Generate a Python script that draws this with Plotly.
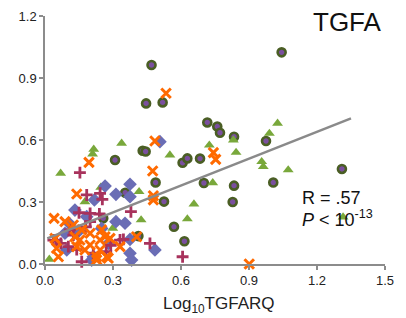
import plotly.graph_objects as go

# Green circles (purple centre, olive ring)
circ_x = [0.470, 1.044, 0.446, 0.519, 0.716, 0.760, 0.772, 0.834, 0.975, 0.309, 0.431, 0.444,
          0.607, 0.628, 0.684, 0.488, 0.701, 1.007, 0.834, 1.310, 0.354, 0.525, 0.828, 0.569,
          0.615, 0.412, 0.257]
circ_y = [0.963, 1.024, 0.777, 0.782, 0.685, 0.665, 0.635, 0.616, 0.595, 0.503, 0.548, 0.544,
          0.490, 0.511, 0.510, 0.394, 0.392, 0.394, 0.379, 0.460, 0.345, 0.302, 0.300, 0.180,
          0.110, 0.135, 0.221]

# Light green triangles
tri_x = [0.019, 0.069, 0.215, 0.210, 0.338, 0.176, 0.246, 0.415, 0.424, 0.299, 0.551, 0.725,
         0.740, 0.657, 0.628, 0.831, 0.843, 0.990, 0.956, 0.963, 1.026, 1.073, 1.315, 0.100]
tri_y = [0.023, 0.439, 0.555, 0.532, 0.584, 0.301, 0.371, 0.350, 0.213, 0.173, 0.527, 0.575,
         0.393, 0.290, 0.218, 0.600, 0.540, 0.632, 0.495, 0.471, 0.681, 0.455, 0.227, 0.070]

# Blue diamonds
dia_x = [0.507, 0.265, 0.375, 0.313, 0.375, 0.132, 0.184, 0.110, 0.250, 0.313, 0.353, 0.088,
         0.375, 0.382, 0.485, 0.213, 0.375, 0.096, 0.218, 0.206, 0.150, 0.280]
dia_y = [0.592, 0.377, 0.386, 0.337, 0.326, 0.261, 0.229, 0.193, 0.172, 0.205, 0.197, 0.149,
         0.052, 0.019, 0.068, 0.035, 0.119, 0.068, 0.310, 0.019, 0.160, 0.100]

# Crimson plus signs
plus_x = [0.154, 0.184, 0.243, 0.253, 0.150, 0.240, 0.199, 0.051, 0.037, 0.103, 0.162, 0.331,
          0.110, 0.199, 0.213, 0.379, 0.346, 0.463, 0.607, 0.140, 0.270, 0.290, 0.070, 0.125,
          0.180]
plus_y = [0.442, 0.334, 0.342, 0.313, 0.248, 0.242, 0.205, 0.113, 0.116, 0.084, 0.011, 0.116,
          0.165, 0.245, 0.052, 0.253, 0.119, 0.100, 0.035, 0.070, 0.060, 0.090, 0.100, 0.140,
          0.180]

# Orange crosses
x_x = [0.534, 0.485, 0.475, 0.478, 0.478, 0.743, 0.753, 0.901, 0.194, 0.140, 0.040, 0.088,
       0.125, 0.044, 0.051, 0.059, 0.132, 0.154, 0.140, 0.176, 0.199, 0.243, 0.228, 0.272,
       0.287, 0.331, 0.404, 0.243, 0.199, 0.162, 0.250, 0.265, 0.279, 0.228]
x_y = [0.826, 0.595, 0.450, 0.330, 0.310, 0.539, 0.506, 0.000, 0.492, 0.339, 0.221, 0.205,
       0.189, 0.124, 0.076, 0.035, 0.132, 0.116, 0.084, 0.068, 0.149, 0.116, 0.035, 0.035,
       0.124, 0.084, 0.132, 0.068, 0.092, 0.165, 0.165, 0.132, 0.028, 0.020]

# Regression line end points
fit_x = [0.01, 1.35]
fit_y = [0.124, 0.705]

fig = go.Figure()
fig.add_trace(go.Scatter(x=circ_x, y=circ_y, mode="markers",
                         marker=dict(symbol="circle", size=8, color="#7a4f9e",
                                     line=dict(color="#4a5e24", width=2.6))))
fig.add_trace(go.Scatter(x=tri_x, y=tri_y, mode="markers",
                         marker=dict(symbol="triangle-up", size=9.5, color="#79a83b",
                                     line=dict(width=0))))
fig.add_trace(go.Scatter(x=dia_x, y=dia_y, mode="markers",
                         marker=dict(symbol="diamond", size=10.5, color="#6a6db5",
                                     line=dict(width=0))))
fig.add_trace(go.Scatter(x=plus_x, y=plus_y, mode="markers",
                         marker=dict(symbol="cross-thin", size=8.5, color="#a8325c",
                                     line=dict(color="#a8325c", width=2.8))))
fig.add_trace(go.Scatter(x=x_x, y=x_y, mode="markers",
                         marker=dict(symbol="x-thin", size=9.5, color="#ff6a00",
                                     line=dict(color="#ff6a00", width=3))))
fig.add_trace(go.Scatter(x=fit_x, y=fit_y, mode="lines",
                         line=dict(color="#8a8a8a", width=2.5)))
fig.update_traces(cliponaxis=False)

axis_common = dict(showgrid=False, zeroline=False, showline=True, linecolor="#8c8c8c",
                   linewidth=1.5, ticks="outside", ticklen=4, tickcolor="#8c8c8c",
                   tickwidth=1.5, tickformat=".1f", automargin=False,
                   tickfont=dict(family="Liberation Sans", size=13, color="#222222"))

fig.update_xaxes(range=[0, 1.5], dtick=0.3, tick0=0, **axis_common)
fig.update_yaxes(range=[0, 1.2], dtick=0.3, tick0=0, **axis_common)

# x-axis title as an annotation so it does not push the margins
fig.add_annotation(xref="paper", yref="paper", x=0.513, y=-0.165, xanchor="center",
                   yanchor="middle", text="Log<sub>10</sub>TGFARQ", showarrow=False,
                   font=dict(family="Liberation Sans", size=17, color="#222222"))
fig.add_annotation(xref="paper", yref="paper", x=0.996, y=0.975, xanchor="right", yanchor="middle",
                   text="TGFA", showarrow=False,
                   font=dict(family="Liberation Sans", size=26, color="#111111"))
fig.add_annotation(xref="x", yref="y", x=1.125, y=0.318, xanchor="left", yanchor="middle",
                   text="R = .57", showarrow=False,
                   font=dict(family="Liberation Sans", size=18, color="#111111"))
fig.add_annotation(xref="x", yref="y", x=1.125, y=0.22, xanchor="left", yanchor="middle",
                   text="<i>P</i> < 10<sup>-13</sup>", showarrow=False,
                   font=dict(family="Liberation Sans", size=18, color="#111111"))

# page body has an 8px margin, so the figure is 8px smaller and offset
fig.update_layout(width=398, height=310, margin=dict(l=37, r=21, t=8, b=54),
                  paper_bgcolor="white", plot_bgcolor="white", showlegend=False)

fig.write_html("out.html")
